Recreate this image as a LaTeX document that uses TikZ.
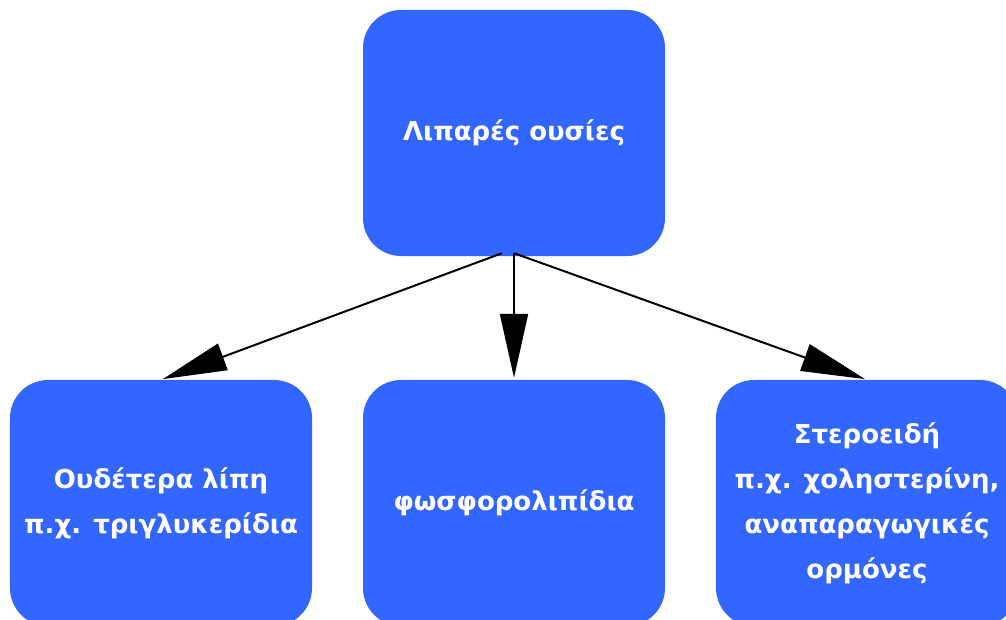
\documentclass[tikz,border=0pt]{standalone}
\usepackage{fontspec}
\setmainfont{DejaVu Sans}
\usetikzlibrary{arrows.meta}
\definecolor{boxblue}{RGB}{51,102,255}
\begin{document}
\begin{tikzpicture}[x=1bp,y=-1bp,
  box/.style={fill=boxblue, draw=none, rounded corners=38bp, minimum width=302bp, minimum height=246bp,
    text=white, font=\fontsize{26bp}{45bp}\selectfont\bfseries, align=center, inner sep=0pt},
  arr/.style={line width=2bp, -{Triangle[length=64bp,width=28bp]}, shorten >=2bp}]
\useasboundingbox (0,0) rectangle (1006,620);
\clip (0,0) rectangle (1006,620);
\node[box] (top) at (514,133) {Λιπαρές ουσίες};
\node[box] (left) at (161,503) {Ουδέτερα λίπη\\π.χ. τριγλυκερίδια};
\node[box] (mid) at (514,503) {φωσφορολιπίδια};
\node[box] (right) at (867,503) {Στεροειδή\\π.χ. χοληστερίνη,\\ αναπαραγωγικές\\ορμόνες};
\draw[arr] ([xshift=-12bp,yshift=3bp]top.south) -- (left.north);
\draw[arr] ([yshift=3bp]top.south) -- (mid.north);
\draw[arr] ([yshift=3bp]top.south) -- (right.north);
\end{tikzpicture}
\end{document}
